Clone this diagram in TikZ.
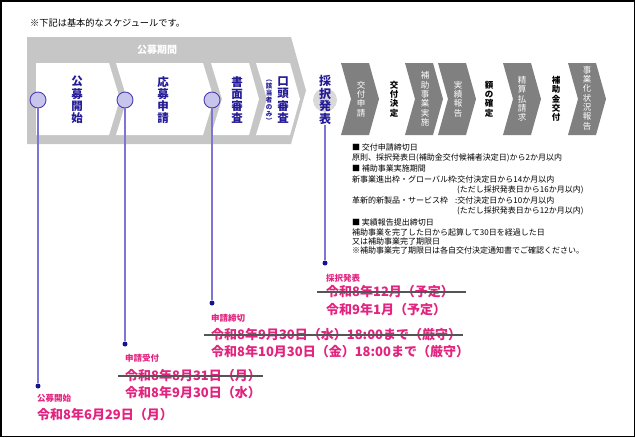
\documentclass[tikz,border=0pt]{standalone}
\usepackage{fontspec}
\setmainfont{Noto Sans CJK JP}
\usetikzlibrary{positioning}

\definecolor{bandgray}{HTML}{C6C6C6}
\definecolor{stepgray}{HTML}{808080}
\definecolor{stageblue}{HTML}{241A96}
\definecolor{pinfill}{HTML}{C8C5EC}
\definecolor{pinedge}{HTML}{4A3FB2}
\definecolor{pinstem}{HTML}{7D74D6}
\definecolor{dotblue}{HTML}{15148C}
\definecolor{datepink}{HTML}{E2237F}
\definecolor{strikegray}{HTML}{555555}

\tikzset{
  stagelbl/.style={text=stageblue, font=\fontsize{11.5}{12.2}\selectfont\bfseries, align=center, inner sep=0pt},
  steplbl/.style={text=white, font=\fontsize{8.5}{9.3}\selectfont, align=center, inner sep=0pt},
  milestone/.style={text=black, font=\fontsize{8.5}{9.3}\selectfont\bfseries, align=center, inner sep=0pt},
  pinhead/.style={circle, draw=pinedge, fill=pinfill, line width=0.9pt, minimum size=16pt, inner sep=0pt},
  pinstemline/.style={draw=pinstem, line width=1.1pt},
  pindot/.style={circle, fill=dotblue, minimum size=5pt, inner sep=0pt},
  datelbl/.style={text=datepink, anchor=west, inner sep=0pt, font=\fontsize{8.5}{9}\selectfont\bfseries},
  datebig/.style={text=datepink, anchor=west, inner sep=0pt, font=\fontsize{13}{14}\selectfont\bfseries},
  strike/.style={draw=strikegray, line width=1.1pt},
  infotxt/.style={anchor=west, inner sep=0pt, font=\fontsize{8}{9}\selectfont},
}

\begin{document}
\begin{tikzpicture}[x=1pt,y=-1pt]
  \useasboundingbox (0,0) rectangle (635,437);
  \draw[line width=1.5pt] (0.75,0.75) rectangle (634.25,436.25);

  \node[anchor=west, inner sep=0pt, font=\fontsize{9.2}{10}\selectfont] (note) at (30,23) {※下記は基本的なスケジュールです。};

  % 公募期間 band
  \fill[bandgray] (27,37) -- (291,37) -- (306,90.5) -- (291,144) -- (27,144) -- cycle;
  \node[text=white, font=\fontsize{10}{11}\selectfont\bfseries, inner sep=0pt] (period) at (157,50) {公募期間};
  \fill[white] (36,63) -- (109,63) -- (120,99) -- (109,135) -- (36,135) -- cycle;
  \fill[white] (116,63) -- (203,63) -- (214,99) -- (203,135) -- (116,135) -- (127,99) -- cycle;
  \fill[white] (211,63) -- (249,63) -- (259,99) -- (249,135) -- (211,135) -- (222,99) -- cycle;
  \fill[white] (256,63) -- (290,63) -- (300,99) -- (290,135) -- (256,135) -- (267,99) -- cycle;

  % steps after selection
  \foreach \x in {341,405,438,503,568}
    \fill[stepgray] (\x,63) -- ++(28,0) -- ++(10,36) -- ++(-10,36) -- ++(-28,0) -- ++(10,-36) -- cycle;

  \fill[black!15] (325,100) circle (12);

  \node[stagelbl] (t1) at (77,100) {公\\募\\開\\始};
  \node[stagelbl] (t2) at (163,100) {応\\募\\申\\請};
  \node[stagelbl] (t3) at (237,100) {書\\面\\審\\査};
  \node[stagelbl] (t4) at (283,100) {口\\頭\\審\\査};
  \node[stagelbl, font=\fontsize{6.5}{7}\selectfont\bfseries] (t4n) at (269,101.5) {︵\\該\\当\\者\\の\\み\\︶};
  \node[stagelbl, font=\fontsize{12}{12.6}\selectfont\bfseries] (t5) at (325,100) {採\\択\\発\\表};

  \node[steplbl] (s1) at (361,99) {交\\付\\申\\請};
  \node[milestone] (m1) at (394,99) {交\\付\\決\\定};
  \node[steplbl] (s2) at (425,99) {補\\助\\事\\業\\実\\施};
  \node[steplbl] (s3) at (458,99) {実\\績\\報\\告};
  \node[milestone] (m2) at (489,99) {額\\の\\確\\定};
  \node[steplbl] (s4) at (522,99) {精\\算\\払\\請\\求};
  \node[milestone] (m3) at (556,99) {補\\助\\金\\交\\付};
  \node[steplbl] (s5) at (587,98) {事\\業\\化\\状\\況\\報\\告};

  % pins
  \node[pinhead] (c1) at (38,100) {};
  \node[pinhead] (c2) at (125,100) {};
  \node[pinhead] (c3) at (212,100) {};
  \node[pindot] (d1) at (38,386) {};
  \node[pindot] (d2) at (125,344) {};
  \node[pindot] (d3) at (212,303) {};
  \node[pindot] (d4) at (325,263) {};
  \draw[pinstemline] (c1) -- (d1);
  \draw[pinstemline] (c2) -- (d2);
  \draw[pinstemline] (c3) -- (d3);
  \draw[pinstemline] (t5) -- (d4);

  % notes on the steps
  \node[infotxt] (i1) at (352,147) {■ 交付申請締切日};
  \node[infotxt] (i2) at (352,157.5) {原則、採択発表日(補助金交付候補者決定日)から2か月以内};
  \node[infotxt] (i3) at (352,168.5) {■ 補助事業実施期間};
  \node[infotxt] (i4) at (352,179.5) {新事業進出枠・グローバル枠};
  \node[infotxt] (i4b) at (455,179.5) {:交付決定日から14か月以内};
  \node[infotxt] (i5) at (457,190) {(ただし採択発表日から16か月以内)};
  \node[infotxt] (i6) at (352,200.5) {革新的新製品・サービス枠};
  \node[infotxt] (i6b) at (455,200.5) {:交付決定日から10か月以内};
  \node[infotxt] (i7) at (457,211) {(ただし採択発表日から12か月以内)};
  \node[infotxt] (i8) at (352,222) {■ 実績報告提出締切日};
  \node[infotxt] (i9) at (352,232) {補助事業を完了した日から起算して30日を経過した日};
  \node[infotxt] (i10) at (352,241) {又は補助事業完了期限日};
  \node[infotxt] (i11) at (352,250) {※補助事業完了期限日は各自交付決定通知書でご確認ください。};

  % dates
  \node[datelbl] (l1) at (37,398) {公募開始};
  \node[datebig] (g1) at (37,415) {令和8年6月29日（月）};

  \node[datelbl] (l2) at (125,358) {申請受付};
  \node[datebig] (o2) at (125,376) {令和8年8月31日（月）};
  \node[datebig] (g2) at (125,393) {令和8年9月30日（水）};
  \draw[strike] ([xshift=-7pt]o2.west) -- ([xshift=2pt]o2.east);

  \node[datelbl] (l3) at (211,318) {申請締切};
  \node[datebig] (o3) at (211,335) {令和8年9月30日（水）18:00まで（厳守）};
  \node[datebig] (g3) at (211,352) {令和8年10月30日（金）18:00まで（厳守）};
  \draw[strike] ([xshift=-7pt]o3.west) -- ([xshift=2pt]o3.east);

  \node[datelbl] (l4) at (326,278) {採択発表};
  \node[datebig] (o4) at (326,292) {令和8年12月（予定）};
  \node[datebig] (g4) at (326,310) {令和9年1月（予定）};
  \draw[strike] ([xshift=-9pt]o4.west) -- ([xshift=12pt]o4.east);
\end{tikzpicture}
\end{document}
